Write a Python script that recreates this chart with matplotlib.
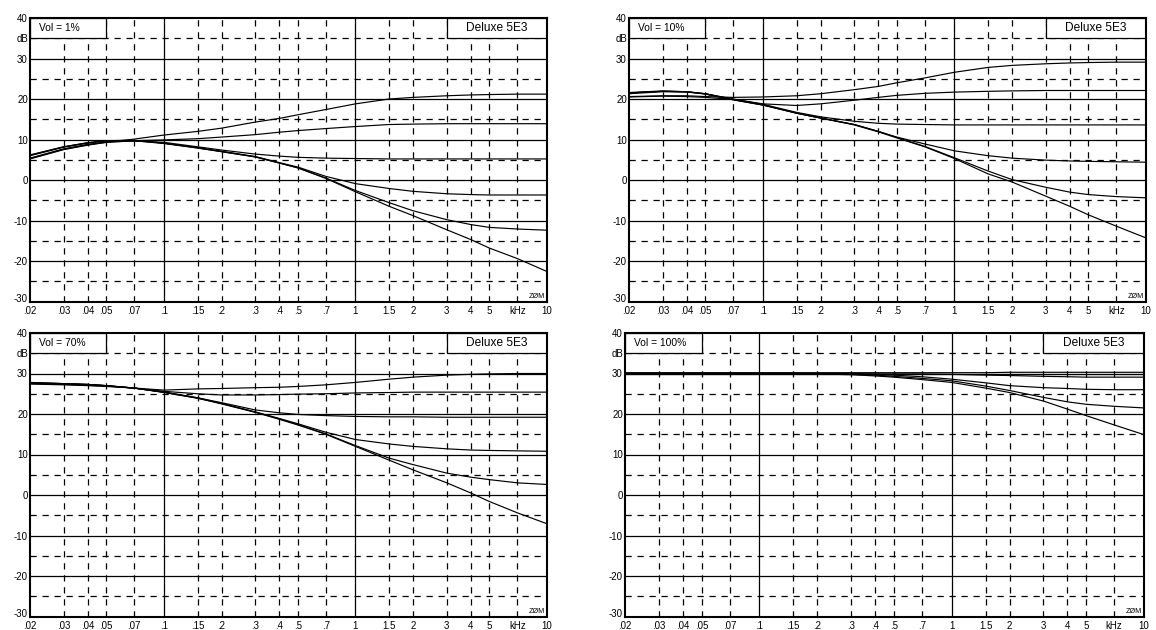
import matplotlib
matplotlib.use("Agg")
import matplotlib.pyplot as plt
from matplotlib.patches import Rectangle
from matplotlib.transforms import ScaledTranslation

plt.rcParams['font.family'] = ['Liberation Sans', 'DejaVu Sans']

# frequencies (kHz) where the curves were read
freq = [0.02, 0.03, 0.04, 0.05, 0.07, 0.1, 0.15, 0.2, 0.3, 0.4, 0.5, 0.7,
        1, 1.5, 2, 3, 4, 5, 7, 10]

# gain (dB) for the tone settings, one list per curve
vol_1 = [
    [5.2, 7.5, 8.6, 9.3, 10.1, 11.1, 12.0, 12.8, 14.3, 15.2, 16.1, 17.4, 18.8, 20.0, 20.4, 20.8, 21.0, 21.1, 21.2, 21.2],
    [5.3, 7.6, 8.7, 9.3, 9.7, 9.9, 10.2, 10.6, 11.2, 11.8, 12.2, 12.7, 13.2, 13.7, 13.8, 13.9, 13.9, 13.9, 13.9, 13.9],
    [5.4, 7.7, 8.8, 9.4, 9.6, 9.3, 8.2, 7.4, 6.4, 5.9, 5.6, 5.4, 5.3, 5.2, 5.2, 5.2, 5.2, 5.2, 5.2, 5.2],
    [6.0, 8.1, 9.1, 9.7, 9.8, 9.1, 8.0, 7.1, 5.8, 4.3, 3.2, 0.9, -0.9, -2.1, -2.8, -3.4, -3.6, -3.7, -3.7, -3.7],
    [6.1, 8.2, 9.2, 9.7, 9.8, 9.1, 7.9, 7.0, 5.7, 4.2, 3.0, 0.5, -2.6, -5.6, -7.6, -9.8, -11.0, -11.7, -12.1, -12.4],
    [6.2, 8.2, 9.2, 9.7, 9.7, 9.0, 7.9, 7.0, 5.7, 4.2, 3.0, 0.4, -2.9, -6.5, -8.8, -12.3, -14.7, -16.8, -19.4, -22.6],
]
vol_10 = [
    [20.6, 20.8, 20.8, 20.6, 20.4, 20.5, 20.8, 21.3, 22.3, 23.1, 24.0, 25.2, 26.6, 27.8, 28.3, 28.7, 28.9, 29.0, 29.1, 29.1],
    [20.5, 20.7, 20.6, 20.4, 19.9, 18.8, 18.4, 18.8, 19.7, 20.4, 20.9, 21.4, 21.7, 21.9, 22.0, 22.1, 22.1, 22.1, 22.1, 22.1],
    [21.3, 21.8, 21.7, 21.3, 20.0, 18.7, 16.7, 15.6, 14.5, 14.0, 13.8, 13.7, 13.6, 13.6, 13.6, 13.6, 13.6, 13.6, 13.6, 13.6],
    [21.5, 21.9, 21.8, 21.3, 19.9, 18.6, 16.5, 15.3, 13.7, 12.0, 10.6, 8.9, 7.2, 6.0, 5.4, 4.9, 4.7, 4.6, 4.5, 4.4],
    [21.5, 21.9, 21.8, 21.3, 19.8, 18.5, 16.5, 15.3, 13.7, 12.0, 10.5, 8.3, 5.5, 2.2, 0.1, -1.8, -3.0, -3.6, -4.1, -4.4],
    [21.6, 22.0, 21.8, 21.2, 19.8, 18.5, 16.5, 15.3, 13.6, 11.9, 10.4, 8.2, 5.3, 1.5, -0.5, -4.0, -6.5, -8.6, -11.4, -14.3],
]
vol_70 = [
    [27.4, 27.2, 27.0, 26.8, 26.4, 25.9, 26.2, 26.3, 26.5, 26.6, 26.8, 27.2, 27.8, 28.6, 29.1, 29.6, 29.8, 29.9, 30.0, 30.0],
    [27.5, 27.3, 27.1, 26.9, 26.4, 25.6, 25.0, 24.7, 24.7, 24.8, 24.9, 25.0, 25.2, 25.3, 25.4, 25.4, 25.4, 25.4, 25.4, 25.4],
    [27.6, 27.4, 27.2, 27.0, 26.4, 25.4, 24.0, 22.8, 21.0, 20.3, 19.9, 19.6, 19.4, 19.3, 19.3, 19.2, 19.2, 19.2, 19.2, 19.2],
    [27.7, 27.5, 27.3, 27.0, 26.4, 25.4, 24.0, 22.6, 20.5, 18.9, 17.6, 15.5, 13.7, 12.6, 12.0, 11.4, 11.1, 11.0, 10.9, 10.8],
    [27.7, 27.5, 27.3, 27.0, 26.4, 25.4, 23.9, 22.6, 20.5, 18.8, 17.4, 15.1, 12.2, 9.1, 7.5, 5.4, 4.4, 3.8, 3.0, 2.6],
    [27.8, 27.5, 27.3, 27.0, 26.4, 25.3, 23.9, 22.5, 20.4, 18.7, 17.3, 15.0, 12.0, 8.6, 6.2, 3.0, 0.5, -1.6, -4.4, -7.1],
]
vol_100 = [
    [30.2, 30.2, 30.2, 30.2, 30.2, 30.2, 30.2, 30.2, 30.2, 30.2, 30.2, 30.2, 30.2, 30.2, 30.3, 30.3, 30.3, 30.3, 30.3, 30.3],
    [30.0, 30.0, 30.0, 30.0, 30.0, 30.0, 30.0, 30.0, 30.0, 30.0, 30.0, 30.0, 30.0, 30.0, 30.0, 30.0, 30.0, 30.0, 30.0, 30.0],
    [30.0, 30.0, 30.0, 30.0, 30.0, 30.0, 30.0, 30.0, 30.0, 29.9, 29.9, 29.9, 29.8, 29.6, 29.5, 29.3, 29.2, 29.1, 29.1, 29.1],
    [30.0, 30.0, 30.0, 30.0, 30.0, 30.0, 30.0, 30.0, 29.9, 29.8, 29.6, 29.2, 28.6, 27.7, 27.0, 26.5, 26.3, 26.1, 26.0, 26.0],
    [30.0, 30.0, 30.0, 30.0, 30.0, 30.0, 30.0, 29.9, 29.8, 29.6, 29.3, 28.8, 28.2, 26.9, 25.8, 24.1, 23.0, 22.4, 21.9, 21.5],
    [30.0, 30.0, 30.0, 30.0, 30.0, 30.0, 30.0, 29.9, 29.7, 29.4, 29.1, 28.5, 27.8, 26.4, 25.3, 23.2, 21.2, 19.6, 17.3, 14.9],
]
panel_labels = ['Vol = 1%', 'Vol = 10%', 'Vol = 70%', 'Vol = 100%']
model_name = 'Deluxe 5E3'

xtick_pos = [0.02, 0.03, 0.04, 0.05, 0.07, 0.1, 0.15, 0.2, 0.3, 0.4, 0.5, 0.7,
             1, 1.5, 2, 3, 4, 5, 7, 10]
xtick_lbl = ['.02', '.03', '.04', '.05', '.07', '.1', '.15', '.2', '.3', '.4', '.5', '.7',
             '1', '1.5', '2', '3', '4', '5', 'kHz', '10']
ytick_pos = [40, 35, 30, 20, 10, 0, -10, -20, -30]
ytick_lbl = ['40', 'dB', '30', '20', '10', '0', '-10', '-20', '-30']

W, H = 1156, 630
fig = plt.figure(figsize=(W / 100, H / 100), dpi=100)

# panel boxes in pixels: left, top, right, bottom
boxes = [(30, 18, 547, 301.5), (629, 18, 1146, 301.5),
         (30, 333, 547, 616.5), (625, 333, 1144, 616.5)]
dash = (0, (5, 4.6))


def draw_panel(ax, curves, label):
    ax.set_xscale('log')
    ax.set_xlim(0.02, 10)
    ax.set_ylim(-30, 40)
    # grid
    for y in range(-20, 40, 10):
        ax.axhline(y, color='black', lw=0.9, zorder=1)
    for y in range(-25, 40, 10):
        ax.axhline(y, color='black', lw=0.9, ls=dash, zorder=1)
    for x in xtick_pos[1:-1]:
        if x in (0.1, 1):
            ax.axvline(x, color='black', lw=0.9, zorder=1)
        else:
            ax.axvline(x, color='black', lw=0.9, ls=dash, zorder=1)
    for c in curves:
        ax.plot(freq, c, color='black', lw=0.85, zorder=3)
    # label boxes
    ax.add_patch(Rectangle((0.02, 35), 0.03, 5, facecolor='white', edgecolor='black',
                           lw=0.9, zorder=4))
    ax.text(0.0224, 37.5, label, fontsize=7.4, va='center', ha='left', zorder=5)
    ax.add_patch(Rectangle((3, 35), 7, 5, facecolor='white', edgecolor='black',
                           lw=0.9, zorder=4))
    ax.text(5.48, 37.6, model_name, fontsize=8.6, va='center', ha='center', zorder=5)
    ax.text(0.997, 0.006, 'ZØM', transform=ax.transAxes, fontsize=5.2,
            ha='right', va='bottom', zorder=5)
    ax.set_xticks(xtick_pos)
    ax.set_xticklabels(xtick_lbl)
    ax.minorticks_off()
    ax.set_yticks(ytick_pos)
    ax.set_yticklabels(ytick_lbl)
    ax.tick_params(length=0, labelsize=7)
    ax.tick_params(axis='x', pad=3)
    ax.tick_params(axis='y', pad=1.5)
    # lift the bottom y label a little so it clears '.02'
    lab = ax.get_yticklabels()[-1]
    lab.set_transform(lab.get_transform() + ScaledTranslation(0, 2.5 / 72, fig.dpi_scale_trans))
    for s in ax.spines.values():
        s.set_linewidth(1.5)
        s.set_zorder(6)


for (l, t, r, b), curves, label in zip(boxes, [vol_1, vol_10, vol_70, vol_100], panel_labels):
    ax = fig.add_axes([l / W, 1 - b / H, (r - l) / W, (b - t) / H])
    draw_panel(ax, curves, label)

fig.savefig('out.png', dpi=100)
